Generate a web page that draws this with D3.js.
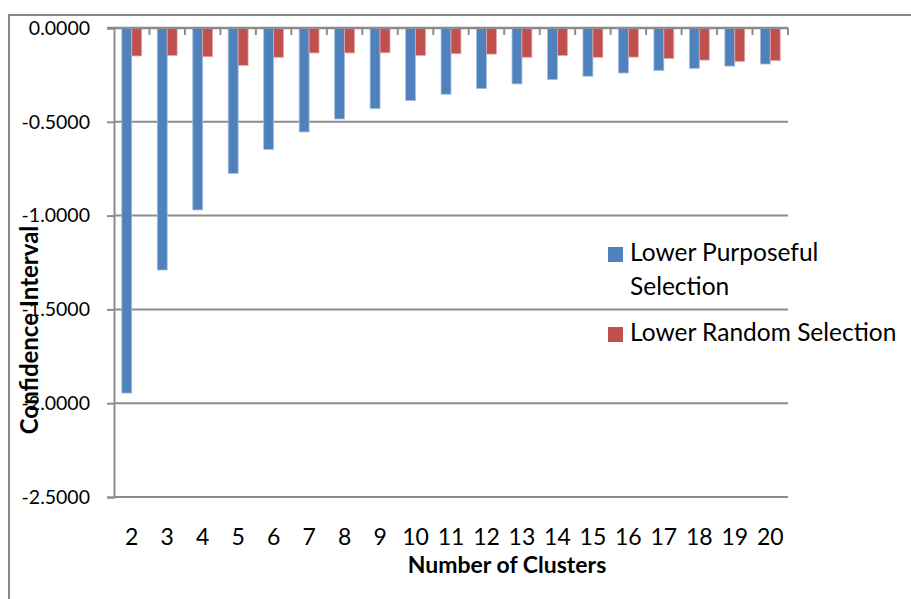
<!DOCTYPE html>
<html>
<head>
<meta charset="utf-8">
<script src="https://cdn.jsdelivr.net/npm/d3@7"></script>
<style>
  html, body { margin: 0; padding: 0; background: #fff; }
  svg { display: block; }
  text { font-family: Lato, "Open Sans", sans-serif; fill: #000; }
</style>
</head>
<body>
<svg id="chart" width="911" height="599"></svg>
<script>
const categories = ["2","3","4","5","6","7","8","9","10","11","12","13","14","15","16","17","18","19","20"];
const purposeful = [-1.946,-1.29,-0.97,-0.775,-0.647,-0.554,-0.485,-0.43,-0.387,-0.353,-0.323,-0.298,-0.275,-0.257,-0.24,-0.227,-0.215,-0.203,-0.192];
const random = [-0.149,-0.146,-0.153,-0.199,-0.156,-0.133,-0.133,-0.132,-0.146,-0.137,-0.139,-0.156,-0.146,-0.156,-0.155,-0.162,-0.171,-0.178,-0.174];
const seriesNames = ["Lower Purposeful Selection", "Lower Random Selection"];
const seriesColors = ["#4F81BD", "#C0504D"];
const seriesEdges = ["#A7C0DE", "#E0A8A6"];
const yTicks = [0, -0.5, -1.0, -1.5, -2.0, -2.5];
const xTitle = "Number of Clusters";
const yTitle = "Confidence Interval";

const svg = d3.select("#chart");
const pLeft = 114, pRight = 788, pTop = 28, pBottom = 497;

// outer chart frame
svg.append("rect").attr("x", 9).attr("y", 15).attr("width", 1000).attr("height", 700)
  .attr("fill", "none").attr("stroke", "#878787").attr("stroke-width", 2);

const x = d3.scaleBand().domain(categories).range([pLeft, pRight]).paddingInner(0).paddingOuter(0);
const y = d3.scaleLinear().domain([0, -2.5]).range([pTop, pBottom]);

// gridlines
svg.append("g").selectAll("line").data(yTicks.slice(1)).join("line")
  .attr("x1", pLeft).attr("x2", pRight)
  .attr("y1", d => y(d)).attr("y2", d => y(d))
  .attr("stroke", "#8C8C8C").attr("stroke-width", 2);

// y axis
const yAxis = d3.axisLeft(y).tickValues(yTicks).tickSize(7).tickPadding(17)
  .tickFormat(d => d3.format(".4f")(d).replace("−", "-"));
const gy = svg.append("g").attr("transform", `translate(${pLeft},0)`).call(yAxis);
gy.select(".domain").attr("stroke", "#8C8C8C").attr("stroke-width", 2);
gy.selectAll(".tick line").attr("stroke", "#8C8C8C").attr("stroke-width", 2);
gy.selectAll(".tick text").attr("font-size", 19.5).attr("font-family", "Lato").attr("fill", "#000");

const barW = x.bandwidth() * 0.28;
const series = [purposeful, random];
series.forEach((vals, si) => {
  svg.append("g").selectAll("rect").data(vals).join("rect")
    .attr("x", (d, i) => x(categories[i]) + x.bandwidth() / 2 - barW + si * barW)
    .attr("y", y(0))
    .attr("width", barW)
    .attr("height", d => y(d) - y(0))
    .attr("fill", seriesColors[si])
    .attr("stroke", seriesEdges[si]).attr("stroke-width", 0.8);
});

// top category axis (x axis at zero)
const xAxisG = svg.append("g");
xAxisG.append("line").attr("x1", pLeft - 7).attr("x2", pRight).attr("y1", y(0)).attr("y2", y(0))
  .attr("stroke", "#8C8C8C").attr("stroke-width", 2.5);
const boundaries = categories.map(c => x(c) + x.bandwidth());
xAxisG.selectAll("line.tk").data(boundaries).join("line").attr("class", "tk")
  .attr("x1", d => d).attr("x2", d => d).attr("y1", y(0)).attr("y2", y(0) + 7)
  .attr("stroke", "#8C8C8C").attr("stroke-width", 2);

// category labels at bottom
svg.append("g").selectAll("text").data(categories).join("text")
  .attr("x", d => x(d) + x.bandwidth() / 2)
  .attr("y", 545)
  .attr("text-anchor", "middle")
  .attr("font-size", 23)
  .text(d => d);

// axis titles
svg.append("text").attr("x", 507).attr("y", 573).attr("text-anchor", "middle")
  .attr("font-size", 23).attr("font-weight", "bold").text(xTitle);
svg.append("text").attr("transform", "translate(38,330) rotate(-90)").attr("text-anchor", "middle")
  .attr("font-size", 24).attr("font-weight", "bold").text(yTitle);

// legend
const lg = svg.append("g");
lg.append("rect").attr("x", 608).attr("y", 247).attr("width", 15).attr("height", 15).attr("fill", seriesColors[0]);
lg.append("text").attr("x", 630).attr("y", 261).attr("font-size", 24.5).text("Lower Purposeful");
lg.append("text").attr("x", 630).attr("y", 295).attr("font-size", 24.5).text("Selection");
lg.append("rect").attr("x", 608).attr("y", 327).attr("width", 15).attr("height", 15).attr("fill", seriesColors[1]);
lg.append("text").attr("x", 630).attr("y", 341).attr("font-size", 24.5).text(seriesNames[1]);
</script>
</body>
</html>
